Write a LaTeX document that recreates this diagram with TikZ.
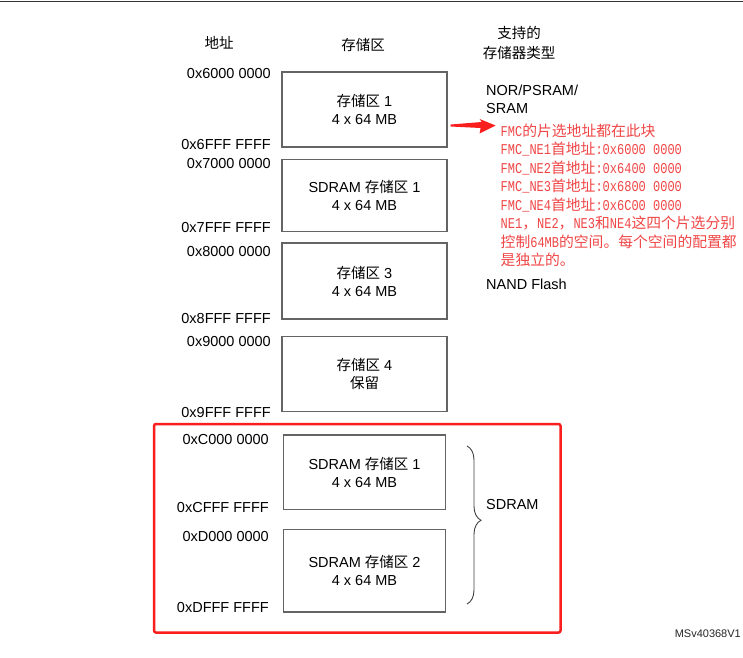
\documentclass[tikz,border=0pt]{standalone}
\usepackage{fontspec}
\setmainfont{Liberation Sans}
\newfontfamily\cjk{Noto Sans CJK SC}
\newfontfamily\mono[FakeStretch=0.8]{Liberation Mono}
\usetikzlibrary{decorations.pathreplacing,arrows.meta}
\definecolor{boxgray}{RGB}{100,100,100}
\definecolor{notered}{RGB}{240,70,70}
\definecolor{framered}{RGB}{250,30,30}
\newcommand{\cz}[1]{{\cjk #1}}
\newcommand{\rmo}[1]{{\mono\fontsize{15}{17}\selectfont #1}}
\newcommand{\rcj}[1]{{\cjk\fontsize{14.8}{17}\selectfont #1}}
\begin{document}
\begin{tikzpicture}[x=1pt,y=-1pt,
  mem/.style={draw=boxgray,line width=1.2pt,minimum width=165pt,align=center,
    font=\fontsize{14.5}{18}\selectfont,inner sep=0pt},
  addr/.style={anchor=east,font=\fontsize{14.5}{17}\selectfont,inner sep=0pt},
  lbl/.style={font=\fontsize{14.5}{17}\selectfont,inner sep=0pt},
  note/.style={anchor=west,text=notered,inner sep=0pt}]
\useasboundingbox (0,0) rectangle (743,657);
\fill[white] (0,0) rectangle (743,657);
\draw[line width=1.5pt,black!80] (0,1.5) -- (743,1.5);

% headers
\node[lbl] (h1) at (219,43) {\cz{地址}};
\node[lbl] (h2) at (363,45) {\cz{存储区}};
\node[lbl] (h3) at (519,33) {\cz{支持的}};
\node[lbl] (h4) at (519,53) {\cz{存储器类型}};

% memory boxes
\node[mem,minimum height=75pt] (b1) at (364.5,109.5) {\cz{存储区} 1\\4 x 64 MB};
\node[mem,minimum height=72pt] (b2) at (364.5,195.5) {SDRAM \cz{存储区} 1\\4 x 64 MB};
\node[mem,minimum height=76pt] (b3) at (364.5,281) {\cz{存储区} 3\\4 x 64 MB};
\node[mem,minimum height=75pt] (b4) at (364.5,374) {\cz{存储区} 4\\\cz{保留}};
\node[mem,minimum height=74.5pt,minimum width=162pt] (b5) at (364.5,472.3) {SDRAM \cz{存储区} 1\\4 x 64 MB};
\node[mem,minimum height=82.5pt,minimum width=162pt] (b6) at (364.5,570.8) {SDRAM \cz{存储区} 2\\4 x 64 MB};

% addresses
\node[addr] (a1) at (271,74) {0x6000 0000};
\node[addr] (a2) at (271,145) {0x6FFF FFFF};
\node[addr] (a3) at (271,164) {0x7000 0000};
\node[addr] (a4) at (271,227) {0x7FFF FFFF};
\node[addr] (a5) at (271,251) {0x8000 0000};
\node[addr] (a6) at (271,318) {0x8FFF FFFF};
\node[addr] (a7) at (271,341) {0x9000 0000};
\node[addr] (a8) at (271,412.5) {0x9FFF FFFF};
\node[addr] (a9) at (269,439) {0xC000 0000};
\node[addr] (a10) at (269,507) {0xCFFF FFFF};
\node[addr] (a11) at (269,536) {0xD000 0000};
\node[addr] (a12) at (269,607) {0xDFFF FFFF};

% right-side labels
\node[lbl,anchor=west] (t1) at (486,90) {NOR/PSRAM/};
\node[lbl,anchor=west] (t2) at (486,109) {SRAM};
\node[lbl,anchor=west] (t3) at (486,284) {NAND Flash};

% red notes
\node[note] (n1) at (500.5,131) {\rmo{FMC}\rcj{的片选地址都在此块}};
\node[note] (n2) at (500.5,149.3) {\rmo{FMC\_NE1}\rcj{首地址}\rmo{:0x6000 0000}};
\node[note] (n3) at (500.5,167.7) {\rmo{FMC\_NE2}\rcj{首地址}\rmo{:0x6400 0000}};
\node[note] (n4) at (500.5,186) {\rmo{FMC\_NE3}\rcj{首地址}\rmo{:0x6800 0000}};
\node[note] (n5) at (500.5,204.7) {\rmo{FMC\_NE4}\rcj{首地址}\rmo{:0x6C00 0000}};
\node[note] (n6) at (500.5,223.3) {\rmo{NE1}\rcj{，}\rmo{NE2}\rcj{，}\rmo{NE3}\rcj{和}\rmo{NE4}\rcj{这四个片选分别}};
\node[note] (n7) at (500.5,241.7) {\rcj{控制}\rmo{64MB}\rcj{的空间。每个空间的配置都}};
\node[note] (n8) at (500.5,260) {\rcj{是独立的。}};

% red tapered arrow from box 1 to the notes
\fill[framered] ([xshift=3pt,yshift=-15pt]b1.east) -- ++(31,-2.5) -- ++(-2,-3)
  -- ++(16,6.5) -- ++(-16,8) -- ++(1,-5.5) -- ++(-30,-1.5) -- cycle;

% brace and SDRAM label
\coordinate (brT) at (467,446);
\coordinate (brB) at (467,604);
\draw[black!75,line width=0.9pt,decorate,decoration={brace,amplitude=14pt,aspect=0.47}] (brT) -- (brB);
\node[lbl,anchor=west] (sd) at (486,504) {SDRAM};

% red frame
\draw[framered,line width=2.5pt,rounded corners=2pt] (154,424) rectangle (560.5,632.5);

% figure id
\node[inner sep=0pt,anchor=east,font=\fontsize{11}{13}\selectfont,black!85] (id) at (741,633.7) {MSv40368V1};
\end{tikzpicture}
\end{document}
